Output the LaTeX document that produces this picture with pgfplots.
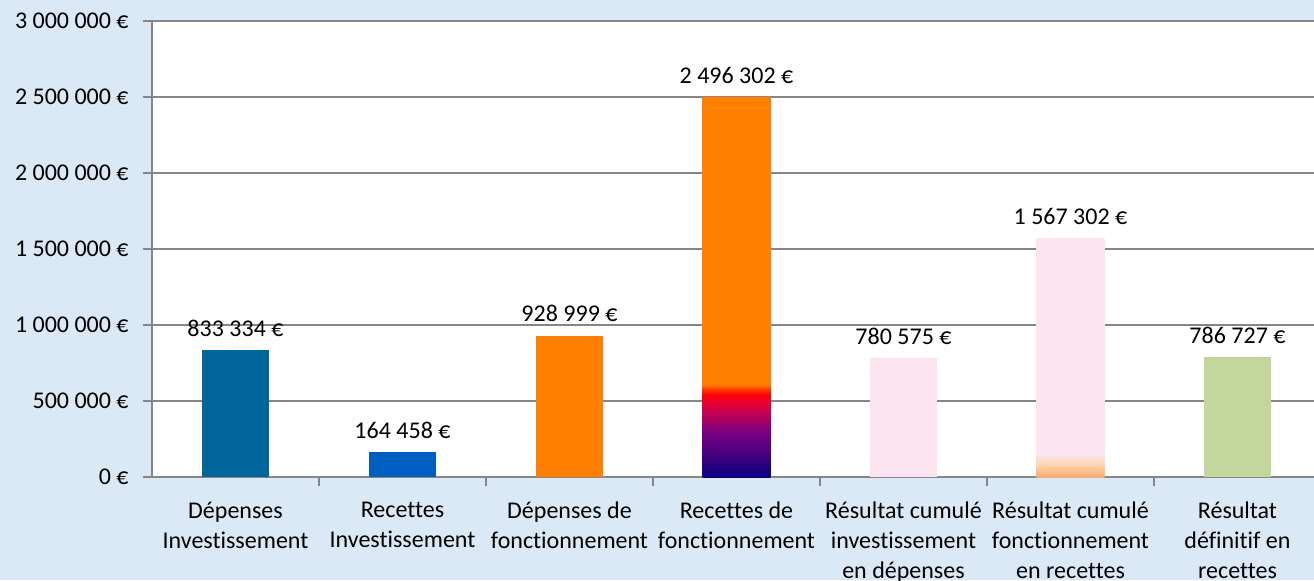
\documentclass[border=0pt]{standalone}
\usepackage{pgfplots}
\pgfplotsset{compat=1.18}
\usepackage{fontspec}
\setmainfont{Carlito}[Ligatures=NoCommon]
\definecolor{bgblue}{RGB}{219,232,246}
\definecolor{gridgray}{RGB}{134,134,134}
\definecolor{cA}{RGB}{0,102,153}
\definecolor{cB}{RGB}{0,94,192}
\definecolor{cC}{RGB}{255,128,0}
\definecolor{pinkbar}{RGB}{252,228,240}
\definecolor{greenbar}{RGB}{195,214,155}
\definecolor{navyb}{RGB}{10,0,128}
\definecolor{purp}{RGB}{125,0,128}
\definecolor{crim}{RGB}{225,0,60}
\definecolor{redb}{RGB}{250,0,10}
\definecolor{redor}{RGB}{255,60,0}
\definecolor{peachd}{RGB}{248,168,112}
\definecolor{peachl}{RGB}{252,214,170}
\pgfdeclareverticalshading{recfonct}{100bp}{color(0bp)=(navyb); color(25bp)=(navyb); color(31bp)=(purp); color(34.5bp)=(crim); color(35.8bp)=(redb); color(36.6bp)=(redor); color(37.2bp)=(cC); color(100bp)=(cC)}
\pgfdeclareverticalshading{resfonct}{100bp}{color(0bp)=(peachd); color(25bp)=(peachd); color(27.5bp)=(peachl); color(29.6bp)=(pinkbar); color(100bp)=(pinkbar)}
\begin{document}
\begin{tikzpicture}
\fill[bgblue] (-76pt,-51.5pt) rectangle (581pt,238.5pt);
\begin{axis}[
  at={(0,0)}, anchor=south west,
  scale only axis, width=584.5pt, height=228pt,
  xmin=-0.5, xmax=6.5, ymin=0, ymax=3000000,
  scaled y ticks=false,
  axis background/.style={fill=white},
  axis x line*=bottom, axis y line*=left,
  axis line style={draw=gridgray, line width=0.8pt, -},
  ytick={0,500000,1000000,1500000,2000000,2500000,3000000},
  yticklabels={0 €, 500 000 €, 1 000 000 €, 1 500 000 €, 2 000 000 €, 2 500 000 €, 3 000 000 €},
  ymajorgrids, grid style={draw=gridgray, line width=0.8pt},
  tick align=outside, major tick length=4.5pt,
  tick style={draw=gridgray, line width=0.8pt},
  xtick={0.5,1.5,2.5,3.5,4.5,5.5}, xticklabels={},
  extra x ticks={0,1,2,3,4,5,6},
  extra x tick style={major tick length=0pt},
  extra x tick labels={Dépenses\\Investissement, Recettes\\Investissement, Dépenses de\\fonctionnement, Recettes de\\fonctionnement, Résultat cumulé\\investissement\\en dépenses, Résultat cumulé\\fonctionnement\\en recettes, Résultat\\définitif en\\recettes},
  xticklabel style={align=center, anchor=north, inner sep=0pt, yshift=-12.4pt, execute at begin node={\strut}, font=\fontsize{12}{14.8}\selectfont},
  yticklabel style={anchor=east, inner sep=0pt, xshift=-7pt, font=\fontsize{12}{14.5}\selectfont},
  ybar, bar width=0.407, bar shift=0pt,
  point meta=explicit symbolic, nodes near coords,
  every node near coord/.append style={anchor=base, inner sep=0pt, yshift=7pt, font=\fontsize{12}{14.5}\selectfont, text=black},
  clip=false,
]
\addplot[draw=none, fill=cA] coordinates {(0,833334) [833 334 €]};
\addplot[draw=none, fill=cB] coordinates {(1,164458) [164 458 €]};
\addplot[draw=none, fill=cC] coordinates {(2,928999) [928 999 €]};
\addplot[draw=none, shade, shading=recfonct] coordinates {(3,2496302) [2 496 302 €]};
\addplot[draw=none, fill=pinkbar] coordinates {(4,780575) [780 575 €]};
\addplot[draw=none, shade, shading=resfonct] coordinates {(5,1567302) [1 567 302 €]};
\addplot[draw=none, fill=greenbar] coordinates {(6,786727) [786 727 €]};
\end{axis}
\pgfresetboundingbox
\useasboundingbox (-76pt,-51.5pt) rectangle (581pt,238.5pt);
\end{tikzpicture}
\end{document}
